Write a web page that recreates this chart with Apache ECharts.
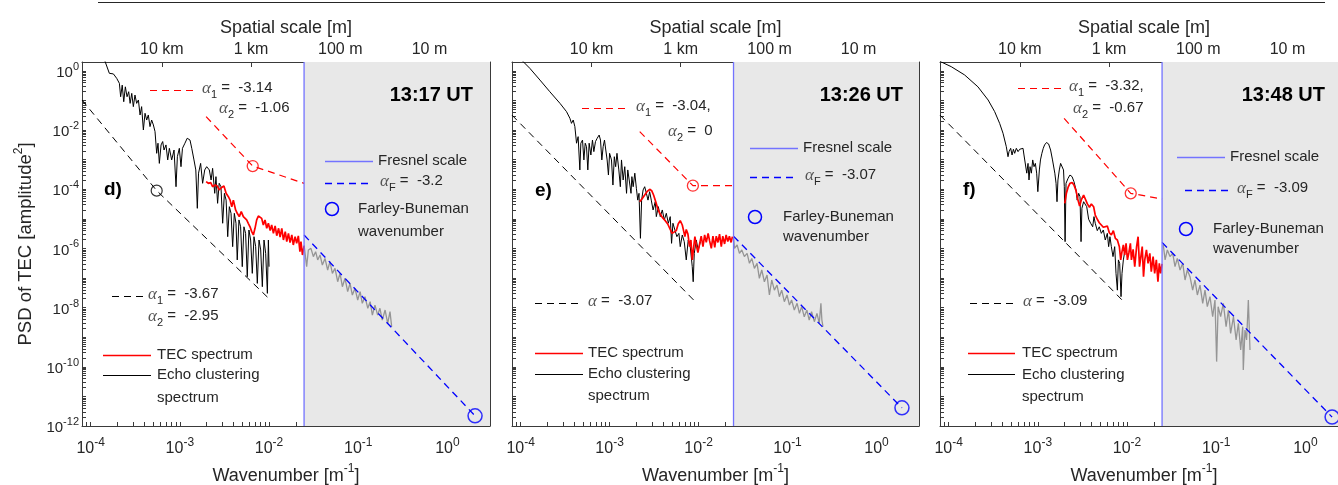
<!DOCTYPE html>
<html><head><meta charset="utf-8">
<script src="https://cdn.jsdelivr.net/npm/echarts@6/dist/echarts.min.js"></script>
<style>html,body{margin:0;padding:0;background:#fff}#c{width:1338px;height:485px}</style>
</head><body><div id="c"></div><script>
// ---------------- data ----------------
const xLabelValues = [1e-4, 1e-3, 1e-2, 1e-1, 1];
const yLabelValues = [1, 1e-2, 1e-4, 1e-6, 1e-8, 1e-10, 1e-12];
const spatialScaleLabels = ['10 km', '1 km', '100 m', '10 m'];
const spatialScaleMeters = [10000, 1000, 100, 10];
const fresnelK = 0.0247;
const panelTitles = ['13:17 UT', '13:26 UT', '13:48 UT'];
const panelLetters = ['d)', 'e)', 'f)'];

// panel d (13:17 UT)
const kEchoD = [1.39e-4,1.62e-4,1.80e-4,1.96e-4,2.10e-4,2.17e-4,2.26e-4,2.35e-4,2.45e-4,2.56e-4,2.67e-4,2.77e-4,2.89e-4,3.01e-4,3.14e-4,3.28e-4,3.43e-4,3.58e-4,3.73e-4,3.90e-4,4.07e-4,4.25e-4,4.43e-4,4.63e-4,4.83e-4,5.05e-4,5.27e-4,5.50e-4,5.69e-4,5.89e-4,6.16e-4,6.42e-4,6.65e-4,6.99e-4,7.31e-4,7.63e-4,8.10e-4,8.61e-4,9.06e-4,9.38e-4,9.87e-4,1.03e-3,1.07e-3,1.14e-3,1.21e-3,1.30e-3,1.36e-3,1.44e-3,1.51e-3,1.57e-3,1.62e-3,1.71e-3,1.80e-3,1.90e-3,2.00e-3,2.14e-3,2.24e-3,2.33e-3,2.46e-3,2.54e-3,2.65e-3,2.76e-3,2.89e-3,3.02e-3,3.16e-3,3.30e-3,3.44e-3,3.59e-3,3.75e-3,3.91e-3,4.08e-3,4.26e-3,4.40e-3,4.60e-3,4.80e-3,5.01e-3,5.23e-3,5.46e-3,5.70e-3,5.95e-3,6.22e-3,6.49e-3,6.78e-3,7.08e-3,7.39e-3,7.72e-3,8.06e-3,8.41e-3,8.78e-3,9.17e-3,9.58e-3,9.83e-3,1.00e-2];
const pEchoD = [3.0,0.83,0.79,0.56,0.38,0.134,0.33,0.091,0.29,0.134,0.198,0.080,0.174,0.062,0.153,0.080,0.104,0.0324,0.062,0.0101,0.037,0.0219,0.0324,0.0131,0.0219,0.0149,8.9e-3,1.64e-3,3.6e-3,7.5e-4,3.15e-3,4.1e-3,2.12e-3,3.15e-3,9.8e-4,2.42e-3,9.8e-4,2.12e-3,1.22e-4,1.26e-3,2.42e-3,5.8e-4,2.42e-3,3.6e-3,5.3e-3,4.6e-3,2.42e-3,9.8e-4,4.5e-4,2.27e-5,3.5e-4,7.5e-4,1.59e-4,4.5e-4,5.8e-4,4.5e-4,2.06e-4,5.1e-4,7.3e-5,2.67e-4,3.35e-5,1.59e-4,1.22e-4,7.1e-6,7.3e-5,4.3e-5,2.5e-6,2.58e-5,1.54e-5,1.15e-6,1.54e-5,7.1e-6,4.1e-7,9.2e-6,5.4e-6,2.42e-7,5.4e-6,3.24e-6,1.11e-7,4.2e-6,1.93e-6,1.44e-7,2.5e-6,1.15e-6,6.6e-8,1.93e-6,8.9e-7,5.1e-8,1.93e-6,6.8e-7,3.04e-8,1.93e-6,2.42e-7];
const kTecD = [1.97e-3,2.09e-3,2.22e-3,2.33e-3,2.48e-3,2.63e-3,2.76e-3,2.94e-3,3.12e-3,3.30e-3,3.50e-3,3.66e-3,3.82e-3,3.98e-3,4.22e-3,4.40e-3,4.64e-3,4.88e-3,5.15e-3,5.37e-3,5.61e-3,5.85e-3,6.12e-3,6.39e-3,6.67e-3,6.96e-3,7.27e-3,7.59e-3,7.92e-3,8.27e-3,8.63e-3,9.01e-3,9.42e-3,9.83e-3,1.03e-2,1.07e-2,1.12e-2,1.17e-2,1.22e-2,1.28e-2,1.33e-2,1.39e-2,1.45e-2,1.52e-2,1.58e-2,1.65e-2,1.72e-2,1.80e-2,1.87e-2,1.96e-2,2.04e-2,2.13e-2,2.22e-2,2.28e-2,2.37e-2,2.47e-2];
const pTecD = [1.81e-4,1.59e-4,1.68e-4,1.22e-4,1.39e-4,1.29e-4,9.5e-5,1.15e-4,1.29e-4,7.3e-5,5.6e-5,4.3e-5,2.58e-5,4.3e-5,2.0e-5,1.54e-5,1.19e-5,1.75e-5,1.19e-5,1.25e-5,9.2e-6,7.1e-6,5.4e-6,3.7e-6,2.85e-6,4.8e-6,9.2e-6,1.25e-5,1.35e-5,1.04e-5,6.2e-6,9.2e-6,4.8e-6,7.1e-6,4.0e-6,6.2e-6,3.24e-6,5.8e-6,2.7e-6,4.8e-6,2.4e-6,4.8e-6,1.93e-6,3.7e-6,1.70e-6,3.24e-6,1.58e-6,2.85e-6,1.31e-6,2.50e-6,1.49e-6,2.65e-6,7.8e-7,1.70e-6,6.0e-7,1.2e-6];
const kGrayD = [0.0247,0.0264,0.0276,0.0295,0.0314,0.0333,0.0351,0.0373,0.0396,0.0424,0.0454,0.0482,0.0513,0.0549,0.0588,0.0625,0.0664,0.0711,0.0761,0.0809,0.0859,0.0920,0.0986,0.105,0.111,0.119,0.128,0.136,0.144,0.154,0.165,0.175,0.186,0.200,0.214,0.227,0.237];
const pGrayD = [1.31e-6,2.42e-7,8.9e-7,1.01e-6,5.3e-7,7.8e-7,4.1e-7,6.0e-7,2.75e-7,4.6e-7,1.87e-7,3.6e-7,1.44e-7,2.13e-7,7.5e-8,1.44e-7,5.1e-8,9.8e-8,3.46e-8,6.6e-8,2.67e-8,4.5e-8,1.81e-8,3.46e-8,1.40e-8,2.34e-8,9.5e-9,1.59e-8,5.6e-9,1.22e-8,5.6e-9,9.5e-9,3.8e-9,8.3e-9,2.94e-9,7.3e-9,2.27e-9];
const kEchoFitD = [8e-5, 5.5e-4, 9.7e-3];
const pEchoFitD = [0.104, 9e-5, 2.2e-8];
const kTecFitD = [1.97e-3, 6.56e-3, 0.0247];
const pTecFitD = [0.0284, 6.1e-4, 1.59e-4];
const kFresFitD = [0.0247, 2.04];
const pFresFitD = [2.85e-6, 2.2e-12];

// panel e (13:26 UT)
const kEchoE = [9.8e-5,1.27e-4,1.65e-4,2.13e-4,2.77e-4,3.28e-4,3.58e-4,3.73e-4,3.90e-4,4.07e-4,4.25e-4,4.43e-4,4.63e-4,4.75e-4,4.96e-4,5.14e-4,5.32e-4,5.50e-4,5.69e-4,5.89e-4,6.16e-4,6.42e-4,6.65e-4,6.94e-4,7.25e-4,7.63e-4,7.90e-4,8.18e-4,8.46e-4,8.76e-4,9.06e-4,9.38e-4,9.70e-4,1.00e-3,1.05e-3,1.09e-3,1.13e-3,1.17e-3,1.21e-3,1.27e-3,1.32e-3,1.36e-3,1.42e-3,1.48e-3,1.55e-3,1.60e-3,1.66e-3,1.74e-3,1.78e-3,1.84e-3,1.92e-3,2.00e-3,2.07e-3,2.14e-3,2.22e-3,2.29e-3,2.38e-3,2.48e-3,2.59e-3,2.70e-3,2.82e-3,2.94e-3,3.08e-3,3.26e-3,3.35e-3,3.53e-3,3.71e-3,3.91e-3,4.12e-3,4.34e-3,4.57e-3,4.80e-3,4.97e-3,5.15e-3,5.42e-3,5.70e-3,6.01e-3,6.22e-3,6.56e-3,6.90e-3,7.27e-3,7.65e-3,8.06e-3,8.49e-3,8.70e-3,8.94e-3,9.42e-3,9.9e-3,1.05e-2];
const pEchoE = [2.67,1.22,0.49,0.198,0.080,0.042,0.025,0.0169,0.0219,0.0131,3.6e-3,6.0e-3,4.5e-4,3.6e-3,4.6e-3,9.8e-4,3.6e-3,2.75e-3,4.5e-4,3.6e-3,1.44e-3,4.6e-3,1.87e-3,4.1e-3,5.3e-3,6.8e-3,4.6e-3,9.8e-4,2.75e-3,4.6e-3,2.12e-3,9.8e-4,3.03e-4,1.64e-3,9.8e-4,1.39e-4,1.26e-3,5.8e-4,1.64e-3,4.5e-4,1.22e-4,9.8e-4,2.06e-4,5.8e-4,7.3e-5,4.5e-4,2.06e-4,7.3e-5,2.67e-4,1.22e-4,3.5e-4,1.08e-4,4.3e-5,7.3e-5,2.2e-6,4.3e-5,9.5e-5,1.22e-4,7.3e-5,4.3e-5,8.3e-5,4.3e-5,2.0e-5,3.8e-5,1.19e-5,2.58e-5,1.19e-5,2.0e-5,9.2e-6,1.54e-5,7.1e-6,1.19e-5,1.49e-6,7.1e-6,4.2e-6,2.5e-6,3.24e-6,1.15e-6,2.85e-6,1.7e-6,4.1e-7,1.93e-6,1.15e-6,2.42e-7,7.5e-8,6.8e-7,1.93e-6,8.9e-7,1.7e-6];
const kTecE = [2.18e-3,2.33e-3,2.48e-3,2.63e-3,2.82e-3,2.97e-3,3.12e-3,3.30e-3,3.47e-3,3.66e-3,3.91e-3,4.22e-3,4.50e-3,4.80e-3,5.04e-3,5.29e-3,5.61e-3,5.90e-3,6.22e-3,6.56e-3,6.78e-3,7.02e-3,7.27e-3,7.59e-3,7.92e-3,8.20e-3,8.49e-3,8.78e-3,9.09e-3,9.42e-3,9.83e-3,1.03e-2,1.07e-2,1.12e-2,1.17e-2,1.22e-2,1.28e-2,1.33e-2,1.39e-2,1.45e-2,1.52e-2,1.58e-2,1.65e-2,1.72e-2,1.80e-2,1.87e-2,1.96e-2,2.04e-2,2.13e-2,2.22e-2,2.32e-2,2.40e-2];
const pTecE = [3.8e-5,4.9e-5,6.4e-5,8.3e-5,1.0e-4,9.0e-5,6.4e-5,3.8e-5,2.27e-5,1.54e-5,1.12e-5,8.7e-6,6.7e-6,4.4e-6,3.24e-6,2.85e-6,4.0e-6,6.7e-6,8.7e-6,6.2e-6,4.0e-6,2.5e-6,4.4e-6,3.05e-6,1.15e-6,1.93e-6,4.1e-7,1.01e-6,2.5e-6,1.31e-6,7.3e-7,1.49e-6,2.6e-6,1.15e-6,2.85e-6,1.6e-6,3.24e-6,1.8e-6,1.01e-6,2.6e-6,1.08e-6,2.6e-6,1.6e-6,3.05e-6,1.15e-6,2.6e-6,1.42e-6,2.85e-6,1.7e-6,2.6e-6,1.6e-6,2.5e-6];
const kGrayE = [0.0247,0.0253,0.0271,0.0288,0.0306,0.0327,0.0351,0.0373,0.0396,0.0424,0.0454,0.0482,0.0513,0.0549,0.0588,0.0625,0.0664,0.0711,0.0761,0.0809,0.0859,0.0920,0.0986,0.105,0.111,0.119,0.128,0.136,0.144,0.154,0.165,0.175,0.186,0.200,0.214,0.227,0.237,0.243,0.250];
const pGrayE = [2.5e-6,1.01e-6,1.31e-6,6.8e-7,8.9e-7,5.3e-7,6.8e-7,3.14e-7,4.6e-7,2.13e-7,3.14e-7,9.8e-8,1.87e-7,7.5e-8,1.27e-7,2.67e-8,8.6e-8,3.9e-8,5.8e-8,2.34e-8,3.9e-8,1.59e-8,2.67e-8,1.22e-8,1.81e-8,8.3e-9,1.40e-8,6.4e-9,1.08e-8,4.9e-9,8.3e-9,3.8e-9,7.3e-9,3.35e-9,6.4e-9,2.94e-9,1.40e-8,3.8e-9,2.27e-9];
const kEchoFitE = [8e-5, 9.5e-3];
const pEchoFitE = [0.032, 1.43e-8];
const kTecFitE = [2.18e-3, 8.63e-3, 0.0247];
const pTecFitE = [8.9e-3, 1.32e-4, 1.32e-4];
const kFresFitE = [0.0247, 1.93];
const pFresFitE = [2.6e-6, 4.1e-12];

// panel f (13:48 UT)
const kEchoF = [8e-5,1.07e-4,1.51e-4,2.13e-4,2.77e-4,3.28e-4,3.73e-4,4.07e-4,4.43e-4,4.63e-4,4.75e-4,4.96e-4,5.14e-4,5.32e-4,5.50e-4,5.74e-4,6.00e-4,6.26e-4,6.53e-4,6.82e-4,6.99e-4,7.25e-4,7.51e-4,7.76e-4,7.96e-4,8.18e-4,8.46e-4,8.76e-4,9.06e-4,9.38e-4,9.70e-4,1.00e-3,1.04e-3,1.07e-3,1.11e-3,1.15e-3,1.19e-3,1.25e-3,1.32e-3,1.39e-3,1.46e-3,1.55e-3,1.60e-3,1.64e-3,1.68e-3,1.74e-3,1.80e-3,1.87e-3,1.94e-3,1.98e-3,2.02e-3,2.07e-3,2.18e-3,2.29e-3,2.42e-3,2.54e-3,2.68e-3,2.76e-3,2.87e-3,2.97e-3,3.05e-3,3.12e-3,3.26e-3,3.35e-3,3.53e-3,3.71e-3,3.91e-3,4.12e-3,4.26e-3,4.40e-3,4.64e-3,4.88e-3,5.15e-3,5.42e-3,5.70e-3,6.01e-3,6.22e-3,6.43e-3,6.67e-3,6.96e-3,7.27e-3,7.52e-3,7.79e-3,8.0e-3,8.27e-3,8.56e-3,8.78e-3,9.09e-3,9.42e-3];
const pEchoF = [2.1,1.39,0.73,0.29,0.104,0.042,0.0169,7.8e-3,2.75e-3,1.26e-3,1.87e-3,2.42e-3,1.44e-3,2.25e-3,1.64e-3,2.42e-3,1.87e-3,2.25e-3,2.0e-3,2.42e-3,1.44e-3,1.26e-3,3.5e-4,7.5e-4,2.06e-4,5.8e-4,3.5e-4,9.8e-4,5.8e-4,7.5e-4,3.5e-4,8.3e-5,4.5e-4,9.8e-4,1.64e-3,2.42e-3,3.15e-3,3.8e-3,3.4e-3,2.12e-3,9.8e-4,3.5e-4,1.59e-4,3.8e-5,2.06e-4,4.5e-4,7.5e-4,8.6e-4,4.5e-4,1.22e-4,1.7e-6,1.59e-4,2.34e-4,3.03e-4,2.67e-4,1.81e-4,9.5e-5,4.3e-5,7.3e-5,5.6e-5,1.7e-6,2.27e-5,3.8e-5,4.3e-5,2.58e-5,9.7e-6,7.1e-6,5.4e-6,1.19e-5,7.1e-6,4.0e-6,5.4e-6,3.24e-6,4.2e-6,1.93e-6,3.24e-6,1.15e-6,2.5e-6,1.15e-6,5.3e-7,1.15e-6,1.44e-7,3.9e-8,4.1e-7,3.14e-7,2.35e-8,1.44e-7,4.1e-7,7.8e-7];
const kTecF = [2.00e-3,2.09e-3,2.18e-3,2.29e-3,2.42e-3,2.54e-3,2.68e-3,2.82e-3,2.94e-3,3.08e-3,3.26e-3,3.41e-3,3.59e-3,3.79e-3,3.98e-3,4.22e-3,4.40e-3,4.64e-3,4.88e-3,5.15e-3,5.42e-3,5.70e-3,6.01e-3,6.33e-3,6.67e-3,7.02e-3,7.39e-3,7.79e-3,8.20e-3,8.49e-3,8.78e-3,9.09e-3,9.42e-3,9.75e-3,1.01e-2,1.05e-2,1.09e-2,1.12e-2,1.17e-2,1.22e-2,1.28e-2,1.33e-2,1.38e-2,1.43e-2,1.48e-2,1.53e-2,1.58e-2,1.65e-2,1.72e-2,1.80e-2,1.87e-2,1.96e-2,2.04e-2,2.13e-2,2.22e-2,2.30e-2,2.38e-2,2.47e-2];
const pTecF = [3.35e-5,7.3e-5,1.15e-4,1.59e-4,1.68e-4,1.39e-4,9.0e-5,4.3e-5,2.7e-5,4.5e-5,6.4e-5,5.6e-5,3.2e-5,2.47e-5,3.2e-5,2.58e-5,1.35e-5,9.7e-6,7.4e-6,6.2e-6,5.2e-6,4.8e-6,5.7e-6,3.4e-6,2.85e-6,4.0e-6,2.2e-6,1.93e-6,1.15e-6,4.1e-7,7.8e-7,1.31e-6,6.0e-7,1.49e-6,4.1e-7,7.3e-7,1.49e-6,4.1e-7,9.3e-7,2.42e-7,1.15e-6,2.5e-6,2.42e-7,5.3e-7,1.15e-6,1.11e-7,4.1e-7,8.9e-7,3.14e-7,6.8e-7,1.64e-7,5.3e-7,1.44e-7,4.1e-7,7.5e-8,3.14e-7,1.44e-7,3.0e-7];
const kGrayF = [0.0255,0.0267,0.0283,0.0303,0.0325,0.0345,0.0366,0.0393,0.0421,0.0447,0.0474,0.0508,0.0544,0.0578,0.0614,0.0658,0.0705,0.0748,0.0794,0.0851,0.0912,0.0968,0.101,0.105,0.112,0.120,0.129,0.137,0.145,0.156,0.167,0.177,0.188,0.198,0.201,0.210,0.219,0.229,0.239];
const pGrayF = [1.31e-6,4.1e-7,8.9e-7,5.3e-7,6.8e-7,2.42e-7,4.6e-7,1.87e-7,3.14e-7,8.6e-8,1.87e-7,1.11e-7,3.9e-8,8.6e-8,2.67e-8,5.8e-8,1.40e-8,3.9e-8,1.08e-8,2.35e-8,4.95e-9,1.81e-8,1.5e-10,1.08e-8,4.95e-9,1.40e-8,2.28e-9,8.3e-9,1.35e-9,4.95e-9,8.1e-10,2.95e-9,3.7e-10,2.28e-9,7.8e-11,1.75e-9,8.1e-10,1.81e-8,3.7e-10];
const kEchoFitF = [8e-5, 9.5e-3];
const pEchoFitF = [0.032, 1.43e-8];
const kTecFitF = [1.97e-3, 1.10e-2, 0.0247];
const pTecFitF = [0.025, 7.3e-5, 4.7e-5];
const kFresFitF = [0.0247, 1.99];
const pFresFitF = [1.6e-6, 2.0e-12];

// break points / Farley-Buneman points
const echoBreaks = [[5.5e-4, 9e-5], null, null];
const tecBreaks = [[6.56e-3, 6.1e-4], [8.63e-3, 1.32e-4], [1.10e-2, 7.3e-5]];
const fbPoints = [[2.04, 2.2e-12], [1.93, 4.1e-12], [1.99, 2.0e-12]];

// ---------------- chart ----------------
const FONT = '"Liberation Sans", Arial, Helvetica, sans-serif';
const SERIF = '"Liberation Serif", "DejaVu Serif", serif';
const TXT = '#262626';
const AXC = '#3a3a3a';
const FRES = '#7373ff';
const zip = (ks, ps) => ks.map((k, i) => [k, ps[i]]);

function decadeTicks(lo, hi) {
  const out = [];
  for (let e = Math.floor(Math.log10(lo)) - 1; e <= Math.ceil(Math.log10(hi)); e++) {
    for (let m = 1; m <= 9; m++) {
      const v = +(m * Math.pow(10, e)).toPrecision(6);
      if (v >= lo * 0.9999 && v <= hi * 1.0001) out.push(v);
    }
  }
  return out;
}
const xMin = 8e-5, xMax = 3, yMin = 1e-12, yMax = 2;
const xTicks = decadeTicks(xMin, xMax);
const yTicks = decadeTicks(yMin, yMax);
const spatialKs = spatialScaleMeters.map(L => 2 * Math.PI / L);

const supRich = (fs, sfs, lh) => ({
  b: { fontSize: fs, lineHeight: lh, verticalAlign: 'bottom', fontFamily: FONT, color: TXT },
  s: { fontSize: sfs, lineHeight: lh, verticalAlign: 'top', fontFamily: FONT, color: TXT }
});
const powLabel = v => '{b|10}{s|' + Math.round(Math.log10(v)) + '}';

const panels = [
  { left: 82, width: 408, echo: zip(kEchoD, pEchoD), tec: zip(kTecD, pTecD), gray: zip(kGrayD, pGrayD),
    echoFit: zip(kEchoFitD, pEchoFitD), tecFit: zip(kTecFitD, pTecFitD), fresFit: zip(kFresFitD, pFresFitD) },
  { left: 512, width: 407, echo: zip(kEchoE, pEchoE), tec: zip(kTecE, pTecE), gray: zip(kGrayE, pGrayE),
    echoFit: zip(kEchoFitE, pEchoFitE), tecFit: zip(kTecFitE, pTecFitE), fresFit: zip(kFresFitE, pFresFitE) },
  { left: 940, width: 408, echo: zip(kEchoF, pEchoF), tec: zip(kTecF, pTecF), gray: zip(kGrayF, pGrayF),
    echoFit: zip(kEchoFitF, pEchoFitF), tecFit: zip(kTecFitF, pTecFitF), fresFit: zip(kFresFitF, pFresFitF) }
];

const grid = [], xAxis = [], yAxis = [], series = [];
panels.forEach((p, i) => {
  grid.push({ left: p.left, top: 62, width: p.width, height: 364, containLabel: false, outerBoundsMode: 'none' });
  const axisLine = { show: true, onZero: false, lineStyle: { color: AXC, width: 1 } };
  xAxis.push({
    type: 'log', logBase: 10, gridIndex: i, min: xMin, max: xMax, position: 'bottom',
    axisLine, splitLine: { show: false },
    axisTick: { show: true, inside: true, length: 4, customValues: xTicks, lineStyle: { color: AXC } },
    axisLabel: { customValues: xLabelValues, formatter: powLabel, margin: 11, rich: supRich(16, 12, 20) },
    name: '{b|Wavenumber [m}{s|-1}{b|]}', nameLocation: 'middle', nameGap: 37,
    nameTextStyle: { rich: supRich(18, 12, 22) }
  });
  xAxis.push({
    type: 'log', logBase: 10, gridIndex: i, min: xMin, max: xMax, position: 'top',
    axisLine, splitLine: { show: false },
    axisTick: { show: true, inside: true, length: 5, customValues: spatialKs, lineStyle: { color: AXC } },
    axisLabel: { customValues: spatialKs, margin: 4, fontFamily: FONT, fontSize: 16, color: TXT,
      formatter: v => { const j = spatialKs.findIndex(k => Math.abs(Math.log10(k / v)) < 0.01); return j >= 0 ? spatialScaleLabels[j] : ''; } },
    name: 'Spatial scale [m]', nameLocation: 'middle', nameGap: 22,
    nameTextStyle: { fontFamily: FONT, fontSize: 18, color: TXT }
  });
  yAxis.push({
    type: 'log', logBase: 10, gridIndex: i, min: yMin, max: yMax, position: 'left',
    axisLine, splitLine: { show: false },
    axisTick: { show: true, inside: true, length: 4, customValues: yTicks, lineStyle: { color: AXC } },
    axisLabel: { show: i === 0, customValues: yLabelValues, formatter: powLabel, margin: 3, rich: supRich(15, 11, 19) },
    name: i === 0 ? '{b|PSD of TEC [amplitude}{s|2}{b|]}' : '', nameLocation: 'middle', nameGap: 47, nameRotate: 90,
    nameTextStyle: { rich: supRich(18.5, 12, 22) }
  });
  yAxis.push({
    type: 'log', logBase: 10, gridIndex: i, min: yMin, max: yMax, position: 'right',
    axisLine, splitLine: { show: false },
    axisTick: { show: true, inside: true, length: 4, customValues: yTicks, lineStyle: { color: AXC } },
    axisLabel: { show: false }
  });
  const xb = i * 2, yl = i * 2;
  // shaded region beyond the Fresnel scale
  series.push({
    type: 'line', xAxisIndex: xb, yAxisIndex: yl, data: [], silent: true, z: 0,
    markArea: { silent: true, itemStyle: { color: '#e8e8e8' }, data: [[{ xAxis: fresnelK }, { xAxis: xMax }]] }
  });
  series.push({ name: 'Echo clustering spectrum', type: 'line', xAxisIndex: xb, yAxisIndex: yl, data: p.echo,
    showSymbol: false, symbol: 'none', lineStyle: { color: '#000', width: 1 }, z: 3, animation: false });
  series.push({ name: 'gray', type: 'line', xAxisIndex: xb, yAxisIndex: yl, data: p.gray,
    showSymbol: false, symbol: 'none', lineStyle: { color: '#959595', width: 1.3 }, z: 3, animation: false });
  series.push({ name: 'TEC spectrum', type: 'line', xAxisIndex: xb, yAxisIndex: yl, data: p.tec,
    showSymbol: false, symbol: 'none', lineStyle: { color: '#ff0000', width: 1.7 }, z: 4, animation: false });
  series.push({ type: 'line', xAxisIndex: xb, yAxisIndex: yl, data: p.echoFit, showSymbol: false, symbol: 'none',
    lineStyle: { color: '#000', width: 1, type: [7, 5] }, z: 5, animation: false });
  series.push({ type: 'line', xAxisIndex: xb, yAxisIndex: yl, data: p.tecFit, showSymbol: false, symbol: 'none',
    lineStyle: { color: '#ff0000', width: 1.2, type: [7, 5] }, z: 5, animation: false });
  series.push({ type: 'line', xAxisIndex: xb, yAxisIndex: yl, data: p.fresFit, showSymbol: false, symbol: 'none',
    lineStyle: { color: '#0000ff', width: 1.3, type: [7, 5] }, z: 5, animation: false });
  // Fresnel scale (vertical line)
  series.push({ type: 'line', xAxisIndex: xb, yAxisIndex: yl, data: [[fresnelK, yMin], [fresnelK, yMax]],
    showSymbol: false, symbol: 'none', lineStyle: { color: FRES, width: 1.3 }, z: 5, animation: false, silent: true });
  if (echoBreaks[i]) series.push({ type: 'scatter', xAxisIndex: xb, yAxisIndex: yl, data: [echoBreaks[i]],
    symbol: 'circle', symbolSize: 11, itemStyle: { color: 'rgba(0,0,0,0)', borderColor: '#000', borderWidth: 1.2 }, z: 6, animation: false });
  series.push({ type: 'scatter', xAxisIndex: xb, yAxisIndex: yl, data: [tecBreaks[i]],
    symbol: 'circle', symbolSize: 11, itemStyle: { color: 'rgba(0,0,0,0)', borderColor: '#ff0000', borderWidth: 1.3 }, z: 6, animation: false });
  series.push({ type: 'scatter', xAxisIndex: xb, yAxisIndex: yl, data: [fbPoints[i]], clip: false,
    symbol: 'circle', symbolSize: 14, itemStyle: { color: 'rgba(0,0,0,0)', borderColor: '#0000ff', borderWidth: 1.5 }, z: 6, animation: false });
});

// ---------------- annotations (legend-like texts) ----------------
const g = [];
const T = (x, y, text, opt = {}) => g.push({ type: 'text', x, y, z: 100, silent: true,
  style: Object.assign({ text, font: '15px ' + FONT, fill: TXT, align: 'left', verticalAlign: 'middle' }, opt) });
const L = (x1, x2, y, color, dash, w = 1) => g.push({ type: 'line', z: 100, silent: true,
  shape: { x1, y1: y + 0.5, x2, y2: y + 0.5 }, style: { stroke: color, lineWidth: w, lineDash: dash || null } });
const C = (x, y, r, color) => g.push({ type: 'circle', z: 100, silent: true,
  shape: { cx: x, cy: y, r }, style: { fill: 'none', stroke: color, lineWidth: 1.5 } });
const alphaRich = {
  a: { fontFamily: SERIF, fontStyle: 'italic', fontSize: 17, lineHeight: 20, verticalAlign: 'top', fill: '#555' },
  sub: { fontFamily: FONT, fontSize: 11, lineHeight: 20, verticalAlign: 'bottom', fill: TXT },
  t: { fontFamily: FONT, fontSize: 15, lineHeight: 20, verticalAlign: 'top', fill: TXT }
};
const A = (x, y, sub, rest) => T(x, y, '{a|α}' + (sub ? '{sub|' + sub + '}' : '') + '{t|' + rest + '}', { rich: alphaRich });
const DASH = [7, 5];

g.push({ type: 'line', z: 100, silent: true, shape: { x1: 98, y1: 2.5, x2: 1325, y2: 2.5 }, style: { stroke: '#262626', lineWidth: 1.2 } });

// panel d
L(150, 197, 90, '#ff0000', DASH, 1.2); A(202, 90, '1', ' =  -3.14'); A(219, 110, '2', ' =  -1.06');
L(112, 145, 296, '#000', DASH); A(148, 296, '1', ' =  -3.67'); A(148, 318, '2', ' =  -2.95');
L(325, 373, 161, FRES, null, 1.3); T(378, 161, 'Fresnel scale');
L(325, 373, 183, '#0000ff', DASH, 1.3); A(380, 183, 'F', ' =  -3.2');
C(332, 209, 6.5, '#0000ff'); T(358, 209, 'Farley-Buneman'); T(358, 232, 'wavenumber');
L(103, 151, 355, '#ff0000', null, 1.7); T(157, 355, 'TEC spectrum');
L(103, 151, 375, '#000', null, 1); T(157, 375, 'Echo clustering'); T(157, 398, 'spectrum');
T(473, 95, panelTitles[0], { font: 'bold 20px ' + FONT, align: 'right', fill: '#000' });
T(104, 190, panelLetters[0], { font: 'bold 19px ' + FONT, fill: '#000' });

// panel e
L(582, 630, 108, '#ff0000', DASH, 1.2); A(636, 108, '1', ' =  -3.04,'); A(668, 133, '2', ' =  0');
L(535, 582, 303, '#000', DASH); A(588, 303, '', ' =  -3.07');
L(750, 798, 148, FRES, null, 1.3); T(803, 148, 'Fresnel scale');
L(750, 798, 177, '#0000ff', DASH, 1.3); A(805, 177, 'F', ' =  -3.07');
C(755, 217, 6.5, '#0000ff'); T(783, 217, 'Farley-Buneman'); T(783, 237, 'wavenumber');
L(535, 583, 353, '#ff0000', null, 1.7); T(588, 353, 'TEC spectrum');
L(535, 583, 374, '#000', null, 1); T(588, 374, 'Echo clustering'); T(588, 396, 'spectrum');
T(903, 95, panelTitles[1], { font: 'bold 20px ' + FONT, align: 'right', fill: '#000' });
T(535, 191, panelLetters[1], { font: 'bold 19px ' + FONT, fill: '#000' });

// panel f
L(1018, 1063, 88, '#ff0000', DASH, 1.2); A(1069, 88, '1', ' =  -3.32,'); A(1073, 110, '2', ' =  -0.67');
L(970, 1017, 303, '#000', DASH); A(1023, 303, '', ' =  -3.09');
L(1177, 1225, 157, FRES, null, 1.3); T(1230, 157, 'Fresnel scale');
L(1185, 1232, 190, '#0000ff', DASH, 1.3); A(1237, 190, 'F', ' =  -3.09');
C(1186, 229, 6.5, '#0000ff'); T(1213, 229, 'Farley-Buneman'); T(1213, 249, 'wavenumber');
L(968, 1015, 353, '#ff0000', null, 1.7); T(1022, 353, 'TEC spectrum');
L(968, 1015, 374, '#000', null, 1); T(1022, 375, 'Echo clustering'); T(1022, 397, 'spectrum');
T(1325, 95, panelTitles[2], { font: 'bold 20px ' + FONT, align: 'right', fill: '#000' });
T(963, 190, panelLetters[2], { font: 'bold 19px ' + FONT, fill: '#000' });

const chart = echarts.init(document.getElementById('c'), null, { renderer: 'canvas' });
chart.setOption({
  animation: false,
  backgroundColor: '#fff',
  textStyle: { fontFamily: FONT, color: TXT },
  grid, xAxis, yAxis, series, graphic: g
});
</script></body></html>
